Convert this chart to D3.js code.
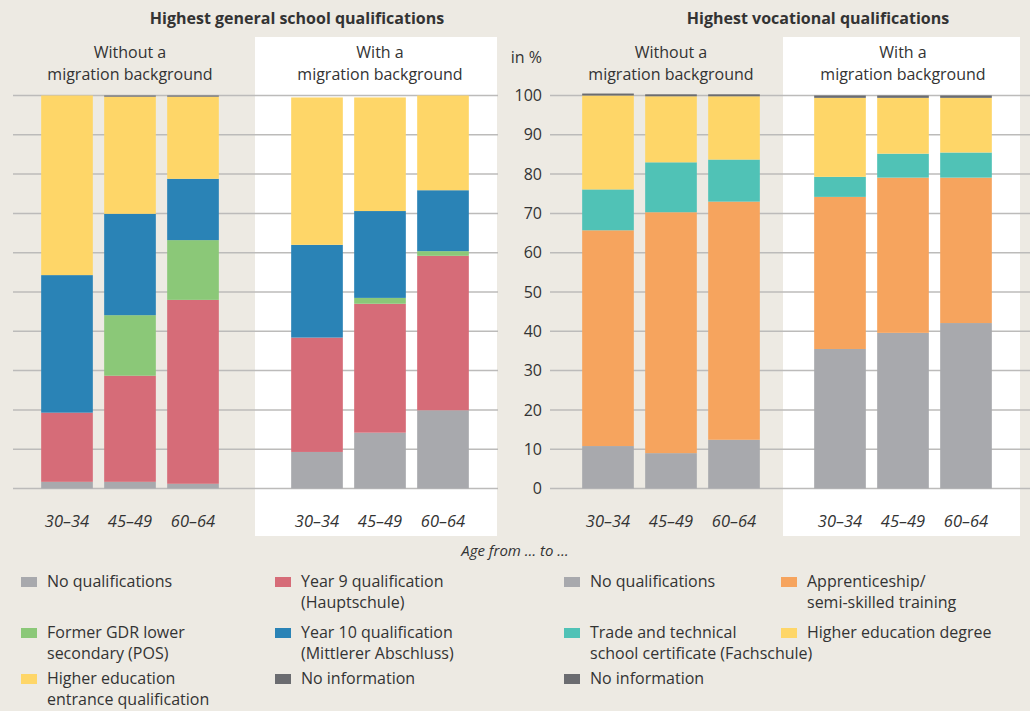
<!DOCTYPE html>
<html>
<head>
<meta charset="utf-8">
<script src="https://cdn.jsdelivr.net/npm/d3@7"></script>
<style>
  body { margin: 0; background: #edeae3; }
  svg text { font-family: "Open Sans", "Noto Sans", sans-serif; fill: #333; }
</style>
</head>
<body>
<svg id="chart" width="1030" height="711"></svg>
<script>
// age groups shown under each panel
const AGES = ["30–34", "45–49", "60–64"];

// general school qualifications, per bar (without: 3 ages, then with: 3 ages)
const GEN_KEYS = ["none", "year9", "gdr", "year10", "entrance", "noinfo"];
const GEN_WITHOUT = [
  {none: 1.7, year9: 17.6, gdr: 0, year10: 35.0, entrance: 45.7, noinfo: 0},
  {none: 1.7, year9: 27.0, gdr: 15.4, year10: 25.8, entrance: 29.8, noinfo: 0.3},
  {none: 1.2, year9: 46.8, gdr: 15.2, year10: 15.6, entrance: 20.9, noinfo: 0.3}
];
const GEN_WITH = [
  {none: 9.3, year9: 29.1, gdr: 0, year10: 23.6, entrance: 37.5, noinfo: 0},
  {none: 14.2, year9: 32.8, gdr: 1.5, year10: 22.1, entrance: 28.9, noinfo: 0},
  {none: 19.9, year9: 39.3, gdr: 1.2, year10: 15.5, entrance: 24.1, noinfo: 0}
];

// vocational qualifications
const VOC_KEYS = ["none", "appr", "trade", "degree", "noinfo"];
const VOC_WITHOUT = [
  {none: 10.8, appr: 54.9, trade: 10.4, degree: 23.9, noinfo: 0.5},
  {none: 9.0, appr: 61.3, trade: 12.7, degree: 16.8, noinfo: 0.5},
  {none: 12.4, appr: 60.6, trade: 10.7, degree: 16.1, noinfo: 0.5}
];
const VOC_WITH = [
  {none: 35.5, appr: 38.7, trade: 5.1, degree: 20.1, noinfo: 0.6},
  {none: 39.6, appr: 39.5, trade: 6.1, degree: 14.2, noinfo: 0.6},
  {none: 42.1, appr: 37.0, trade: 6.4, degree: 13.9, noinfo: 0.6}
];

const Y_TICKS = [0, 10, 20, 30, 40, 50, 60, 70, 80, 90, 100];

const COLORS = {
  none: "#a8a9ad", year9: "#d66c78", gdr: "#8bc878", year10: "#2a83b6",
  entrance: "#fed668", noinfo: "#6b6c70", appr: "#f6a45e", trade: "#50c2b6",
  degree: "#fed668"
};

const GEN_LEGEND = [
  {key: "none", lines: ["No qualifications"]},
  {key: "year9", lines: ["Year 9 qualification", "(Hauptschule)"]},
  {key: "gdr", lines: ["Former GDR lower", "secondary (POS)"]},
  {key: "year10", lines: ["Year 10 qualification", "(Mittlerer Abschluss)"]},
  {key: "entrance", lines: ["Higher education", "entrance qualification"]},
  {key: "noinfo", lines: ["No information"]}
];
const VOC_LEGEND = [
  {key: "none", lines: ["No qualifications"]},
  {key: "appr", lines: ["Apprenticeship/", "semi-skilled training"]},
  {key: "trade", lines: ["Trade and technical", "school certificate (Fachschule)"]},
  {key: "degree", lines: ["Higher education degree"]},
  {key: "noinfo", lines: ["No information"]}
];

const svg = d3.select("#chart");

// white panels behind "with a migration background"
svg.append("rect").attr("x", 255).attr("y", 37).attr("width", 242).attr("height", 499).attr("fill", "#fff");
svg.append("rect").attr("x", 783).attr("y", 37).attr("width", 237).attr("height", 499).attr("fill", "#fff");

const Y_SCALE = d3.scaleLinear().domain([0, 100]).range([488.5, 95.5]);

// gridlines
[[13, 498], [550, 1030]].forEach(([x1, x2]) => {
  svg.append("g").selectAll("line")
    .data(Y_TICKS)
    .enter()
    .append("line")
      .attr("x1", x1).attr("x2", x2)
      .attr("y1", (d) => Y_SCALE(d)).attr("y2", (d) => Y_SCALE(d))
      .attr("stroke", "#bcbbba").attr("stroke-width", 1.5);
});

// y axis labels in the middle
const yAxis = svg.append("g")
  .attr("transform", "translate(542,0)")
  .call(d3.axisLeft(Y_SCALE).tickValues(Y_TICKS).tickSize(0).tickPadding(0));
yAxis.select(".domain").remove();
yAxis.selectAll("text").attr("font-size", "16px").style("font-family", "'Open Sans', sans-serif").attr("fill", "#333");
svg.append("text").attr("x", 542).attr("y", 63).attr("text-anchor", "end")
  .attr("font-size", "16px").text("in %");

// draw one panel of stacked bars
function drawPanel(data, keys, center, title) {
  const X_SCALE = d3.scaleBand()
    .domain(AGES)
    .range([center - 94.5, center + 94.5])
    .paddingInner(0.18)
    .paddingOuter(0.09);

  const rows = data.map((d, i) => Object.assign({age: AGES[i]}, d));
  const series = d3.stack().keys(keys)(rows);

  const g = svg.append("g");
  g.selectAll("g")
    .data(series)
    .enter()
    .append("g")
      .attr("fill", (s) => COLORS[s.key])
    .selectAll("rect")
    .data((s) => s)
    .enter()
    .append("rect")
      .attr("x", (d) => X_SCALE(d.data.age))
      .attr("y", (d) => Y_SCALE(d[1]))
      .attr("width", X_SCALE.bandwidth())
      .attr("height", (d) => Y_SCALE(d[0]) - Y_SCALE(d[1]));

  const xAxis = svg.append("g")
    .attr("transform", "translate(0,522)")
    .call(d3.axisBottom(X_SCALE).tickSize(0).tickPadding(0));
  xAxis.select(".domain").remove();
  xAxis.selectAll("text")
    .attr("font-size", "16.5px").attr("font-style", "italic")
    .attr("dy", "0.32em").attr("fill", "#333")
    .style("font-family", "'Open Sans', sans-serif");

  svg.append("text").attr("x", center).attr("y", 58).attr("text-anchor", "middle")
    .attr("font-size", "16px").text(title[0]);
  svg.append("text").attr("x", center).attr("y", 80).attr("text-anchor", "middle")
    .attr("font-size", "16px").text(title[1]);
}

drawPanel(GEN_WITHOUT, GEN_KEYS, 130, ["Without a", "migration background"]);
drawPanel(GEN_WITH, GEN_KEYS, 380, ["With a", "migration background"]);
drawPanel(VOC_WITHOUT, VOC_KEYS, 671, ["Without a", "migration background"]);
drawPanel(VOC_WITH, VOC_KEYS, 903, ["With a", "migration background"]);

// section titles
svg.append("text").attr("x", 297).attr("y", 24).attr("text-anchor", "middle")
  .attr("font-size", "16px").attr("font-weight", "bold").text("Highest general school qualifications");
svg.append("text").attr("x", 818).attr("y", 24).attr("text-anchor", "middle")
  .attr("font-size", "16px").attr("font-weight", "bold").text("Highest vocational qualifications");

svg.append("text").attr("x", 515).attr("y", 556).attr("text-anchor", "middle")
  .attr("font-size", "15px").attr("font-style", "italic").text("Age from … to …");

// legends
function drawLegend(items, colX, rowY) {
  items.forEach((item, i) => {
    const x = colX[i % 2];
    const y = rowY[Math.floor(i / 2)];
    svg.append("rect").attr("x", x).attr("y", y - 10).attr("width", 16).attr("height", 10)
      .attr("fill", COLORS[item.key]);
    const t = svg.append("text").attr("x", x + 26).attr("y", y).attr("font-size", "16px");
    item.lines.forEach((line, j) => {
      t.append("tspan").attr("x", x + 26).attr("dy", j === 0 ? 0 : 21).text(line);
    });
  });
}
drawLegend(GEN_LEGEND, [21, 275], [587, 638, 684]);
drawLegend(VOC_LEGEND, [564, 781], [587, 638, 684]);
</script>
</body>
</html>
